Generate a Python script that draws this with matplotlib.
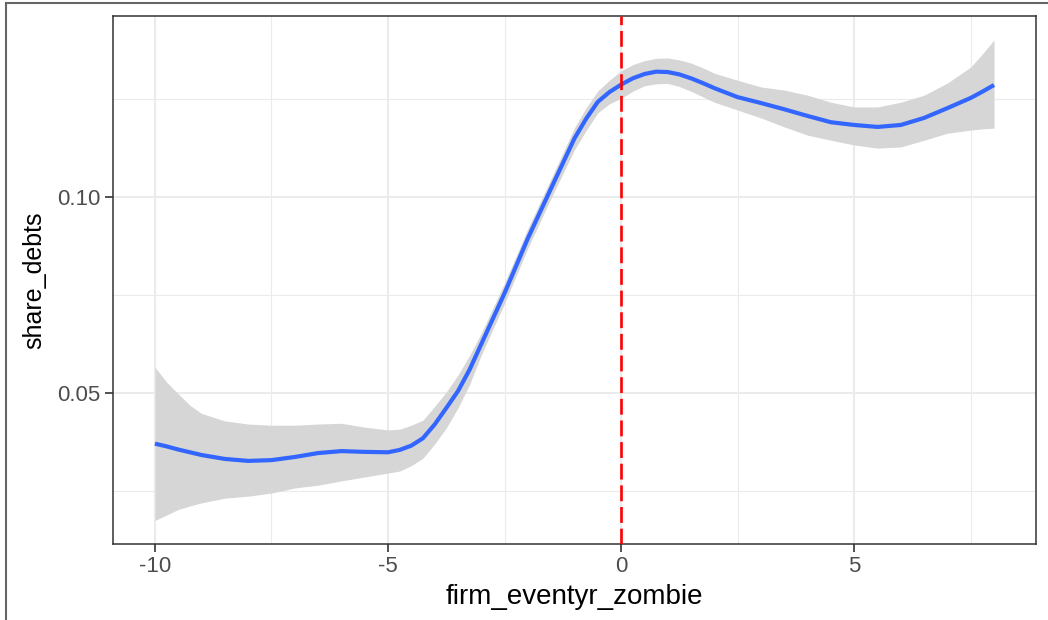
import numpy as np
import matplotlib.pyplot as plt
from matplotlib.patches import Rectangle

plt.rcParams['font.family'] = ['Liberation Sans', 'DejaVu Sans']

# smoothed fit and its confidence band
event_time = [-10, -9.75, -9.5, -9.25, -9, -8.5, -8, -7.5, -7, -6.5, -6, -5.5,
              -5, -4.75, -4.5, -4.25, -4, -3.75, -3.5, -3.25, -3, -2.5, -2,
              -1.5, -1, -0.75, -0.5, -0.25, 0, 0.25, 0.5, 0.75, 1, 1.25, 1.5,
              1.75, 2, 2.5, 3, 3.5, 4, 4.5, 5, 5.5, 6, 6.5, 7, 7.5, 7.75, 8]
fit = [0.0371, 0.0364, 0.0356, 0.0349, 0.0342, 0.0332, 0.0327, 0.0329, 0.0337,
       0.0347, 0.0352, 0.0350, 0.0349, 0.0355, 0.0366, 0.0385, 0.0420, 0.0462,
       0.0505, 0.0560, 0.0625, 0.0755, 0.0895, 0.1023, 0.1150, 0.1200, 0.1243,
       0.1268, 0.1287, 0.1303, 0.1314, 0.1320, 0.1319, 0.1313, 0.1303, 0.1291,
       0.1278, 0.1255, 0.1240, 0.1224, 0.1207, 0.1191, 0.1184, 0.1179, 0.1184,
       0.1202, 0.1227, 0.1253, 0.1269, 0.1286]
upper = [0.0566, 0.0528, 0.0498, 0.0469, 0.0448, 0.0429, 0.0421, 0.0418, 0.0418,
         0.0421, 0.0423, 0.0413, 0.0406, 0.0408, 0.0418, 0.0431, 0.0466, 0.0503,
         0.0546, 0.0596, 0.0653, 0.0781, 0.0920, 0.1048, 0.1177, 0.1228, 0.1271,
         0.1298, 0.1322, 0.1338, 0.1348, 0.1354, 0.1355, 0.1350, 0.1342, 0.1330,
         0.1316, 0.1298, 0.1281, 0.1273, 0.1260, 0.1242, 0.1230, 0.1230, 0.1242,
         0.1260, 0.1291, 0.1332, 0.1365, 0.1401]
lower = [0.0175, 0.0189, 0.0203, 0.0212, 0.0220, 0.0232, 0.0237, 0.0245, 0.0258,
         0.0265, 0.0276, 0.0286, 0.0296, 0.0301, 0.0315, 0.0334, 0.0370, 0.0411,
         0.0462, 0.0522, 0.0597, 0.0729, 0.0870, 0.0998, 0.1121, 0.1170, 0.1215,
         0.1238, 0.1252, 0.1270, 0.1284, 0.1289, 0.1290, 0.1282, 0.1270, 0.1256,
         0.1242, 0.1222, 0.1202, 0.1179, 0.1158, 0.1145, 0.1133, 0.1125, 0.1128,
         0.1145, 0.1163, 0.1171, 0.1174, 0.1176]

x_ticks = [-10, -5, 0, 5]
x_labels = ['-10', '-5', '0', '5']
y_ticks = [0.05, 0.10]
y_labels = ['0.05', '0.10']

fig = plt.figure(figsize=(10.48, 6.2), dpi=100)
ax = fig.add_axes([113 / 1048, 76 / 620, 923 / 1048, 528 / 620])

# grid
for v in [-7.5, -2.5, 2.5, 7.5]:
    ax.axvline(v, color='#EBEBEB', lw=0.8, zorder=0)
for v in [0.025, 0.075, 0.125]:
    ax.axhline(v, color='#EBEBEB', lw=0.8, zorder=0)
for v in x_ticks:
    ax.axvline(v, color='#EBEBEB', lw=1.5, zorder=0)
for v in y_ticks:
    ax.axhline(v, color='#EBEBEB', lw=1.5, zorder=0)

ax.fill_between(event_time, lower, upper, color='#D6D6D6', lw=0, zorder=1)
ax.plot(event_time, fit, color='#3366FF', lw=3.0, zorder=2,
        solid_capstyle='butt', solid_joinstyle='round')
ax.axvline(0, color='red', lw=1.9, dashes=(6, 2.2), zorder=3)

ax.set_xlim(-10.9, 8.9)
ax.set_ylim(0.0115, 0.1462)
ax.set_xticks(x_ticks)
ax.set_xticklabels(x_labels)
ax.set_yticks(y_ticks)
ax.set_yticklabels(y_labels)
ax.tick_params(length=6, width=1.2, color='#333333', labelcolor='#4D4D4D',
               labelsize=16, pad=3)
for s in ax.spines.values():
    s.set_color('#333333')
    s.set_linewidth(1.1)

ax.set_xlabel('firm_eventyr_zombie', fontsize=20, color='black', labelpad=5)
ax.set_ylabel('share_debts', fontsize=18, color='black', labelpad=8)

# outer frame of the image
fig.patches.append(Rectangle((5.5 / 1048, -0.1), 1.2, (617.5 / 620) + 0.1,
                             transform=fig.transFigure, fill=False,
                             ec='#666666', lw=1.5))

fig.savefig('out.png', dpi=100)
